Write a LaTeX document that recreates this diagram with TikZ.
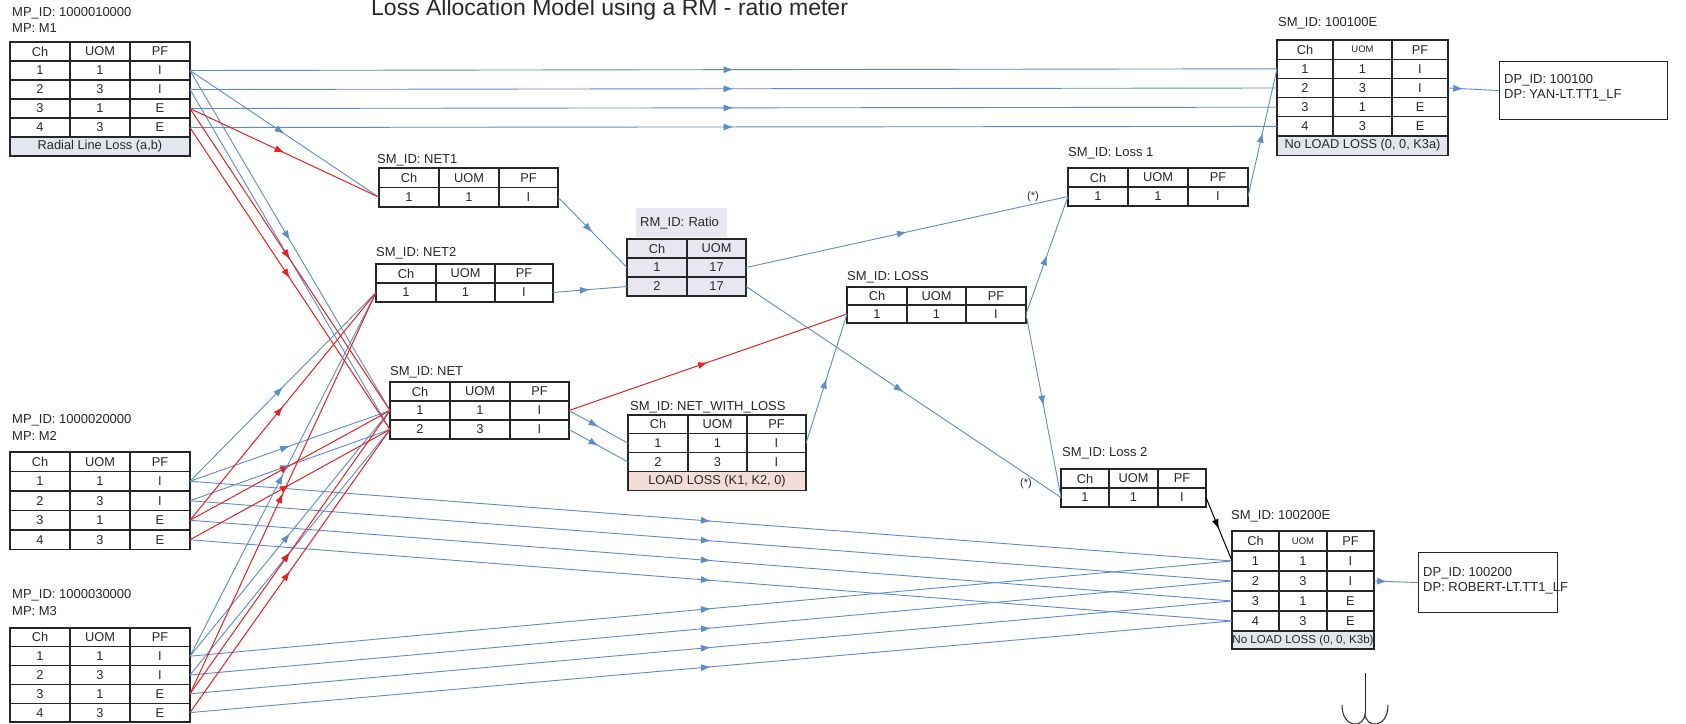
\documentclass[tikz,border=0pt]{standalone}
\usepackage{fontspec}
\setmainfont{Liberation Sans}
\usetikzlibrary{arrows.meta,decorations.markings}
\definecolor{lnblue}{RGB}{95,140,200}
\definecolor{lnred}{RGB}{225,35,35}
\definecolor{ftgrey}{RGB}{228,230,238}
\definecolor{ratiofill}{RGB}{232,230,240}
\definecolor{pinkfill}{RGB}{242,220,215}
\definecolor{txt}{RGB}{40,40,40}
\newcommand{\cellfont}{\fontsize{12.8}{13}\selectfont}
\newcommand{\lblfont}{\fontsize{13}{15}\selectfont}
\tikzset{
  rowbox/.style={draw=black!85, line width=1.1pt, inner sep=0pt, outer sep=0pt, fill=white},
  tblline/.style={draw=black!85, line width=1.1pt},
  celltxt/.style={font=\cellfont, text=txt, inner sep=0pt},
  lbl/.style={anchor=west, font=\lblfont, text=txt, inner sep=0pt},
  blc/.style={color=lnblue, line width=0.9pt, postaction={decorate},
    decoration={markings, mark=at position #1 with {\arrow{Latex[length=10pt,width=7pt]}}}},
  blc/.default=0.5,
  rdc/.style={color=lnred, line width=1pt, postaction={decorate},
    decoration={markings, mark=at position #1 with {\arrow{Latex[length=10pt,width=7pt]}}}},
  rdc/.default=0.5,
  bkc/.style={color=black, line width=1pt, postaction={decorate},
    decoration={markings, mark=at position #1 with {\arrow{Latex[length=10pt,width=7pt]}}}},
  bkc/.default=0.5,
}
% name, x0, x1, x2, x3, ytop, rowheight, rows
\newcommand{\mytable}[8]{%
  \foreach [count=\i from 0] \ca/\cb/\cc in {#8} {%
    \node[rowbox, minimum width={#5-#2}, minimum height={#7}, anchor=north west] (#1-\i) at (#2,{#6+\i*#7}) {};
    \draw[tblline] (#3,{#6+\i*#7}) -- (#3,{#6+(\i+1)*#7});
    \draw[tblline] (#4,{#6+\i*#7}) -- (#4,{#6+(\i+1)*#7});
    \node[celltxt] at ({(#2+#3)/2},{#6+(\i+0.5)*#7}) {\ca};
    \node[celltxt] at ({(#3+#4)/2},{#6+(\i+0.5)*#7}) {\cb};
    \node[celltxt] at ({(#4+#5)/2},{#6+(\i+0.5)*#7}) {\cc};
  }%
}
\begin{document}
\begin{tikzpicture}[x=1pt,y=-1pt]
\useasboundingbox (0,0) rectangle (1686,723);
\fill[white] (0,0) rectangle (1686,723);

% title
\node[anchor=base west, inner sep=0pt, font=\fontsize{23}{23}\selectfont, text=txt] (title) at (371,15) {Loss Allocation Model using a RM - ratio meter};

% labels
\node[lbl] (lm1a) at (12,13) {MP\_ID: 1000010000};
\node[lbl] (lm1b) at (12,28) {MP: M1};
\node[lbl] (lm2a) at (12,420) {MP\_ID: 1000020000};
\node[lbl] (lm2b) at (12,436) {MP: M2};
\node[lbl] (lm3a) at (12,595) {MP\_ID: 1000030000};
\node[lbl] (lm3b) at (12,611) {MP: M3};
\node[lbl] (le1) at (1278,23) {SM\_ID: 100100E};
\node[lbl] (ln1) at (377,160) {SM\_ID: NET1};
\node[lbl] (ln2) at (376,253) {SM\_ID: NET2};
\node[lbl] (lls) at (847,277) {SM\_ID: LOSS};
\node[lbl] (lnt) at (390,372) {SM\_ID: NET};
\node[lbl] (lnw) at (630,407) {SM\_ID: NET\_WITH\_LOSS};
\node[lbl] (ll1) at (1068,153) {SM\_ID: Loss 1};
\node[lbl] (ll2) at (1062,453) {SM\_ID: Loss 2};
\node[lbl] (le2) at (1231,516) {SM\_ID: 100200E};
\node[lbl, font=\fontsize{11}{11}\selectfont] (st1) at (1027,197) {(*)};
\node[lbl, font=\fontsize{11}{11}\selectfont] (st2) at (1020,484) {(*)};
\node[fill=ratiofill, anchor=north west, minimum width=91pt, minimum height=29pt, inner xsep=4pt, inner ysep=0pt, text width=83pt, align=left, font=\lblfont, text=txt] (lrm) at (636,208) {RM\_ID: Ratio};

% tables
\mytable{M1}{10}{70}{130}{190}{42}{19}{Ch/UOM/PF,1/1/I,2/3/I,3/1/E,4/3/E}
\node[rowbox, fill=ftgrey, minimum width=180pt, minimum height=19pt, anchor=north west, font=\cellfont, text=txt] (M1-f) at (10,137) {Radial Line Loss (a,b)};
\mytable{M2}{10}{70}{130}{190}{452}{19.5}{Ch/UOM/PF,1/1/I,2/3/I,3/1/E,4/3/E}
\mytable{M3}{10}{70}{130}{190}{628}{18.8}{Ch/UOM/PF,1/1/I,2/3/I,3/1/E,4/3/E}
\mytable{E1}{1277}{1333}{1392}{1448}{40}{19.2}{Ch/{\fontsize{9.5}{9.5}\selectfont UOM}/PF,1/1/I,2/3/I,3/1/E,4/3/E}
\node[rowbox, fill=ftgrey, minimum width=171pt, minimum height=19.2pt, anchor=north west, font=\cellfont, text=txt] (E1-f) at (1277,136) {No LOAD LOSS (0, 0, K3a)};
\mytable{E2}{1232}{1279}{1327}{1374}{531}{20}{Ch/{\fontsize{9.5}{9.5}\selectfont UOM}/PF,1/1/I,2/3/I,3/1/E,4/3/E}
\node[rowbox, fill=ftgrey, minimum width=142pt, minimum height=18pt, anchor=north west, font=\fontsize{11.6}{12}\selectfont, text=txt] (E2-f) at (1232,631) {No LOAD LOSS (0, 0, K3b)};
\mytable{N1}{379}{439}{499}{558}{168}{19.5}{Ch/UOM/PF,1/1/I}
\mytable{N2}{376}{436}{495}{553}{264}{19}{Ch/UOM/PF,1/1/I}
\mytable{LS}{847}{907}{966}{1026}{287}{18}{Ch/UOM/PF,1/1/I}
\mytable{NT}{390}{450}{510}{569}{382}{19}{Ch/UOM/PF,1/1/I,2/3/I}
\mytable{NW}{628}{688}{747}{806}{415}{18.8}{Ch/UOM/PF,1/1/I,2/3/I}
\node[rowbox, fill=pinkfill, minimum width=178pt, minimum height=19pt, anchor=north west, font=\cellfont, text=txt] (NW-f) at (628,471.4) {LOAD LOSS (K1, K2, 0)};
\mytable{L1}{1068}{1128}{1188}{1248}{168}{19}{Ch/UOM/PF,1/1/I}
\mytable{L2}{1061}{1109}{1158}{1206}{469}{19}{Ch/UOM/PF,1/1/I}
\foreach [count=\i from 0] \ca/\cb in {Ch/UOM,1/17,2/17} {
  \node[rowbox, fill=ratiofill, minimum width=119pt, minimum height=19pt, anchor=north west] (R-\i) at (627,{239+\i*19}) {};
  \draw[tblline] (687,{239+\i*19}) -- (687,{239+(\i+1)*19});
  \node[celltxt] at (657,{239+(\i+0.5)*19}) {\ca};
  \node[celltxt] at (716.5,{239+(\i+0.5)*19}) {\cb};
}

% DP boxes
\node[draw=black!85, line width=1.1pt, anchor=north west, minimum width=168pt, minimum height=58pt, inner sep=0pt] (DP1) at (1499,61) {};
\node[anchor=west, inner sep=0pt, align=left, font=\lblfont, text=txt] (DP1t) at (1504,88) {DP\_ID: 100100\\DP: YAN-LT.TT1\_LF};
\node[draw=black!85, line width=1.1pt, anchor=north west, minimum width=139pt, minimum height=60pt, inner sep=0pt] (DP2) at (1418,552) {};
\node[anchor=west, inner sep=0pt, align=left, font=\lblfont, text=txt] (DP2t) at (1423,581) {DP\_ID: 100200\\DP: ROBERT-LT.TT1\_LF};

% M1 connectors
\draw[blc] (M1-1.east) -- (E1-1.west);
\draw[blc] (M1-2.east) -- (E1-2.west);
\draw[blc] (M1-3.east) -- (E1-3.west);
\draw[blc] (M1-4.east) -- (E1-4.west);
\draw[blc] (M1-1.east) -- (N1-1.west);
\draw[blc] (M1-1.east) -- (NT-1.west);
\draw[blc] (M1-2.east) -- (NT-2.west);
\draw[rdc] (M1-3.east) -- (N1-1.west);
\draw[rdc] (M1-3.east) -- (NT-1.west);
\draw[rdc] (M1-4.east) -- (NT-2.west);
% M2 connectors
\foreach \k in {1,2,3,4} { \draw[blc] (M2-\k.east) -- (E2-\k.west); }
\draw[blc] (M2-1.east) -- (N2-1.west);
\draw[blc] (M2-1.east) -- (NT-1.west);
\draw[blc] (M2-2.east) -- (NT-2.west);
\draw[rdc] (M2-3.east) -- (N2-1.west);
\draw[rdc] (M2-3.east) -- (NT-1.west);
\draw[rdc] (M2-4.east) -- (NT-2.west);
% M3 connectors
\foreach \k in {1,2,3,4} { \draw[blc] (M3-\k.east) -- (E2-\k.west); }
\draw[blc] (M3-1.east) -- (N2-1.west);
\draw[blc] (M3-1.east) -- (NT-1.west);
\draw[blc] (M3-2.east) -- (NT-2.west);
\draw[rdc] (M3-3.east) -- (N2-1.west);
\draw[rdc] (M3-3.east) -- (NT-1.west);
\draw[rdc] (M3-4.east) -- (NT-2.west);
% middle
\draw[blc] (N1-1.east) -- (R-1.west);
\draw[blc] (N2-1.east) -- (R-2.west);
\draw[blc] (R-1.east) -- (L1-1.west);
\draw[blc] (R-2.east) -- (L2-1.west);
\draw[rdc] (NT-1.east) -- (LS-1.west);
\draw[blc] (NT-1.east) -- (NW-1.west);
\draw[blc] (NT-2.east) -- (NW-2.west);
\draw[blc] (NW-1.east) -- (LS-1.west);
\draw[blc] (LS-1.east) -- (L1-1.west);
\draw[blc] (LS-1.east) -- (L2-1.west);
\draw[blc] (L1-1.east) -- (E1-1.west);
\draw[bkc] (L2-1.east) -- (E2-1.west);
\draw[blc=0.3] (E1-2.east) -- (DP1.west);
\draw[blc=0.3] (E2-2.east) -- (DP2.west);

% symbol at bottom
\draw[line width=1pt, black!85] (1365,673) -- (1365,713);
\draw[line width=1pt, black!85] (1342,705) .. controls (1342,729) and (1365,729) .. (1365,713) .. controls (1365,729) and (1388,729) .. (1388,705);
\end{tikzpicture}
\end{document}
